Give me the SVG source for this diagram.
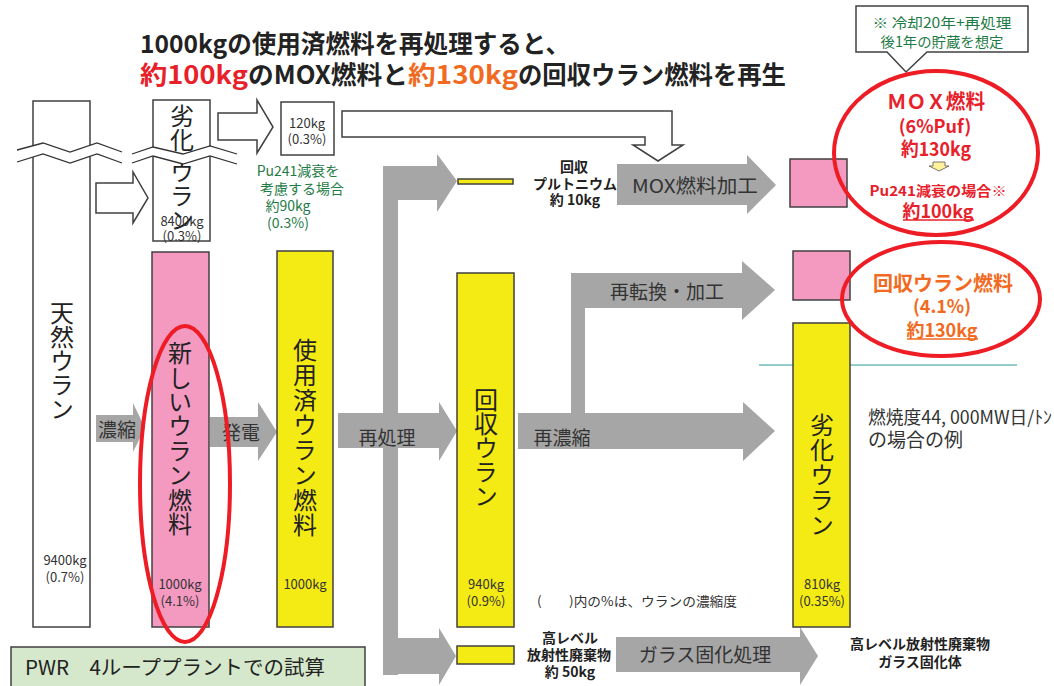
<svg xmlns="http://www.w3.org/2000/svg" width="1054" height="686" viewBox="0 0 1054 686">
<style>
text{font-family:"Noto Sans CJK JP","Noto Sans",sans-serif;}
.t{font-weight:bold;font-size:25px;}
.c{text-anchor:middle;dominant-baseline:central;}
.v{font-size:24px;fill:#222;writing-mode:vertical-rl;}
.s{font-size:13px;fill:#333;}
.g{font-size:14px;fill:#1e7b45;}
.lbl{font-size:19px;fill:#333;}
.b{font-weight:bold;font-size:14px;fill:#222;}
.gray{fill:#a6a6a6;}
.box{stroke:#404040;stroke-width:1.5;}
.out{fill:#fff;stroke:#404040;stroke-width:1.5;}
.zig{fill:none;stroke:#333;stroke-width:1.3;}
.red{fill:none;stroke:#ee1c24;stroke-width:4;}
</style>

<g id="title">
<text class="t" x="140" y="53" fill="#222" textLength="430" lengthAdjust="spacingAndGlyphs">1000kgの使用済燃料を再処理すると、</text>
<text class="t" x="140" y="84" fill="#e8202a" textLength="108" lengthAdjust="spacingAndGlyphs">約100kg</text>
<text class="t" x="248" y="84" fill="#222" textLength="160" lengthAdjust="spacingAndGlyphs">のMOX燃料と</text>
<text class="t" x="408" y="84" fill="#f26a21" textLength="110" lengthAdjust="spacingAndGlyphs">約130kg</text>
<text class="t" x="518" y="84" fill="#222" textLength="268" lengthAdjust="spacingAndGlyphs">の回収ウラン燃料を再生</text>
</g>

<line x1="759" y1="365" x2="1017" y2="365" stroke="#2a9a9a" stroke-width="1"/>

<g id="connectors">
<polygon class="out" points="96,183 133,183 133,172 148,198 133,223 133,213 96,213"/>
<polygon class="out" points="218,113 257,113 257,100 273,127 257,153 257,140 218,140"/>
<polygon class="out" points="342,111 672,111 672,145 683,145 658,161 633,145 645,145 645,137 342,137"/>
<polygon class="gray" points="96,415 133,415 133,403 145,428 133,452 133,442 96,442"/>
<polygon class="gray" points="210,417 258,417 258,402 277,432 258,461 258,447 210,447"/>
<rect class="gray" x="383" y="166" width="15" height="509"/>
<polygon class="gray" points="383,166 437,166 437,154 457,181 437,212 437,200 383,200"/>
<polygon class="gray" points="338,413 439,413 439,402 457,431 439,461 439,448 338,448"/>
<polygon class="gray" points="383,638 439,638 439,628 456,656 439,685 439,674 383,674"/>
<polygon class="gray" points="518,413 743,413 743,402 775,431 743,461 743,449 518,449"/>
<rect class="gray" x="571" y="273" width="14" height="141"/>
<polygon class="gray" points="571,273 742,273 742,261 775,290 742,320 742,308 571,308"/>
<polygon class="gray" points="617,164 747,164 747,155 776,185 747,214 747,205 617,205"/>
<polygon class="gray" points="616,637 800,637 800,627 818,656 800,685 800,672 616,672"/>
<text class="lbl c" x="117" y="428">濃縮</text>
<text class="lbl c" x="241" y="431">発電</text>
<text class="lbl c" x="387" y="436">再処理</text>
<text class="lbl c" x="562" y="436">再濃縮</text>
<text class="lbl c" x="667" y="290" font-size="18">再転換・加工</text>
<text class="lbl c" x="695" y="184" font-size="20" textLength="126" lengthAdjust="spacingAndGlyphs">MOX燃料加工</text>
<text class="lbl c" x="705" y="653">ガラス固化処理</text>
</g>

<g id="natural-uranium">
<rect class="box" x="33" y="101" width="57" height="526" fill="#fff"/>
<text class="v" x="62" y="301">天然ウラン</text>
<text class="s c" x="65" y="559">9400kg</text>
<text class="s c" x="65" y="576">(0.7%)</text>
</g>

<g id="depleted-uranium-top">
<rect class="box" x="153" y="100" width="57" height="141" fill="#fff"/>
<text class="v" x="182" y="104" font-size="20">劣化</text>
<text class="v" x="182" y="160" font-size="17">ウラン</text>
<text class="s c" x="182" y="220">8400kg</text>
<text class="s c" x="182" y="235">(0.3%)</text>
</g>

<g id="breaks">
<polygon fill="#fff" points="17,150 43,143 70,152 97,143 122,152 122,163 97,154 70,163 43,154 17,162"/>
<polyline class="zig" points="17,150 43,143 70,152 97,143 122,152"/>
<polyline class="zig" points="17,162 43,154 70,163 97,154 122,163"/>
<polygon fill="#fff" points="132,154 153,147 183,154 210,146 237,154 237,164 210,156 183,164 153,156 132,163"/>
<polyline class="zig" points="132,154 153,147 183,154 210,146 237,154"/>
<polyline class="zig" points="132,163 153,156 183,164 210,156 237,164"/>
</g>

<g id="pu-120">
<rect class="box" x="281" y="102" width="53" height="53" fill="#fff"/>
<text class="s c" x="307" y="122">120kg</text>
<text class="s c" x="307" y="138">(0.3%)</text>
<text class="g c" x="298" y="170">Pu241減衰を</text>
<text class="g c" x="302" y="188">考慮する場合</text>
<text class="g c" x="288" y="205">約90kg</text>
<text class="g c" x="288" y="222">(0.3%)</text>
</g>

<g id="new-fuel">
<rect class="box" x="152" y="252" width="57" height="375" fill="#f49ac1"/>
<text class="v" x="180" y="341" letter-spacing="0.4">新しいウラン燃料</text>
<text class="s c" x="180" y="583">1000kg</text>
<text class="s c" x="180" y="600">(4.1%)</text>
<ellipse class="red" cx="185" cy="484" rx="45" ry="158"/>
</g>

<g id="spent-fuel">
<rect class="box" x="277" y="251" width="56" height="376" fill="#f5eb14"/>
<text class="v" x="305" y="338" letter-spacing="1">使用済ウラン燃料</text>
<text class="s c" x="305" y="583">1000kg</text>
</g>

<g id="plutonium">
<rect class="box" x="458" y="179" width="55" height="5" fill="#f5eb14" stroke-width="1.2"/>
<text class="b c" x="574" y="166">回収</text>
<text class="b c" x="575" y="183">プルトニウム</text>
<text class="b c" x="575" y="199">約 10kg</text>
</g>

<g id="recovered-uranium">
<rect class="box" x="457" y="273" width="57" height="354" fill="#f5eb14"/>
<text class="v" x="486" y="388">回収ウラン</text>
<text class="s c" x="486" y="583">940kg</text>
<text class="s c" x="486" y="600">(0.9%)</text>
</g>

<g id="hlw">
<rect class="box" x="457" y="646" width="57" height="18" fill="#f5eb14"/>
<text class="b c" x="570" y="637">高レベル</text>
<text class="b c" x="569" y="654" font-size="14.5">放射性廃棄物</text>
<text class="b c" x="570" y="671">約 50kg</text>
</g>

<g id="note">
<text class="s c" x="637" y="600" font-size="14" fill="#333" textLength="200" lengthAdjust="spacingAndGlyphs">(　　)内の%は、ウランの濃縮度</text>
</g>

<g id="mox-box">
<rect class="box" x="790" y="159" width="57" height="48" fill="#f49ac1"/>
</g>

<g id="rec-fuel-box">
<rect class="box" x="793" y="251" width="57" height="49" fill="#f49ac1"/>
</g>

<g id="depleted-uranium">
<rect class="box" x="793" y="323" width="57" height="304" fill="#f5eb14"/>
<text class="v" x="822" y="413" letter-spacing="1">劣化ウラン</text>
<text class="s c" x="822" y="583">810kg</text>
<text class="s c" x="822" y="600">(0.35%)</text>
</g>

<g id="burnup">
<text x="868" y="424" font-size="18" fill="#333" textLength="184" lengthAdjust="spacingAndGlyphs">燃焼度44, 000MW日/ﾄﾝ</text>
<text x="868" y="447" font-size="19" fill="#333">の場合の例</text>
</g>

<g id="vitrified">
<text class="b c" x="920" y="643" font-size="14.5">高レベル放射性廃棄物</text>
<text class="b c" x="920" y="661" font-size="14.5">ガラス固化体</text>
</g>

<g id="callout">
<polygon class="out" points="856,6 1028,6 1028,52 927,52 906,72 887,52 856,52"/>
<text class="g c" x="942" y="22" textLength="139" lengthAdjust="spacingAndGlyphs">※  冷却20年+再処理</text>
<text class="g c" x="942" y="41" textLength="123" lengthAdjust="spacingAndGlyphs">後1年の貯蔵を想定</text>
</g>

<g id="mox-result">
<ellipse class="red" cx="936" cy="153" rx="102" ry="82"/>
<g font-weight="bold" fill="#e8202a">
<text class="c" x="936" y="100" font-size="20" textLength="98" lengthAdjust="spacingAndGlyphs">ＭＯＸ燃料</text>
<text class="c" x="935" y="125" font-size="18">(6%Puf)</text>
<text class="c" x="936" y="147" font-size="19" textLength="70" lengthAdjust="spacingAndGlyphs">約130kg</text>
<text class="c" x="938" y="190" font-size="14" textLength="137" lengthAdjust="spacingAndGlyphs">Pu241減衰の場合※</text>
<text class="c" x="938" y="210" font-size="18" textLength="71" lengthAdjust="spacingAndGlyphs">約100kg</text>
</g>
<line x1="903" y1="220" x2="974" y2="220" stroke="#e8202a" stroke-width="1.3"/>
<polygon points="933,162 945,162 945,166 949,166 939,171 929,166 933,166" fill="#fff29a" stroke="#555" stroke-width="0.8"/>
</g>

<g id="rec-result">
<ellipse class="red" cx="941" cy="299" rx="99" ry="57"/>
<g font-weight="bold" fill="#f26a21">
<text class="c" x="943" y="282" font-size="20" textLength="140" lengthAdjust="spacingAndGlyphs">回収ウラン燃料</text>
<text class="c" x="942" y="305" font-size="18">(4.1%)</text>
<text class="c" x="942" y="329" font-size="18" textLength="71" lengthAdjust="spacingAndGlyphs">約130kg</text>
</g>
<line x1="907" y1="339" x2="978" y2="339" stroke="#f26a21" stroke-width="1.3"/>
</g>

<g id="pwr">
<rect x="11" y="647" width="354" height="45" fill="#d5e8cb" stroke="#404040" stroke-width="1.5"/>
<text x="25" y="675" font-size="20" fill="#222" textLength="300" lengthAdjust="spacingAndGlyphs">PWR　4ループプラントでの試算</text>
</g>
</svg>
